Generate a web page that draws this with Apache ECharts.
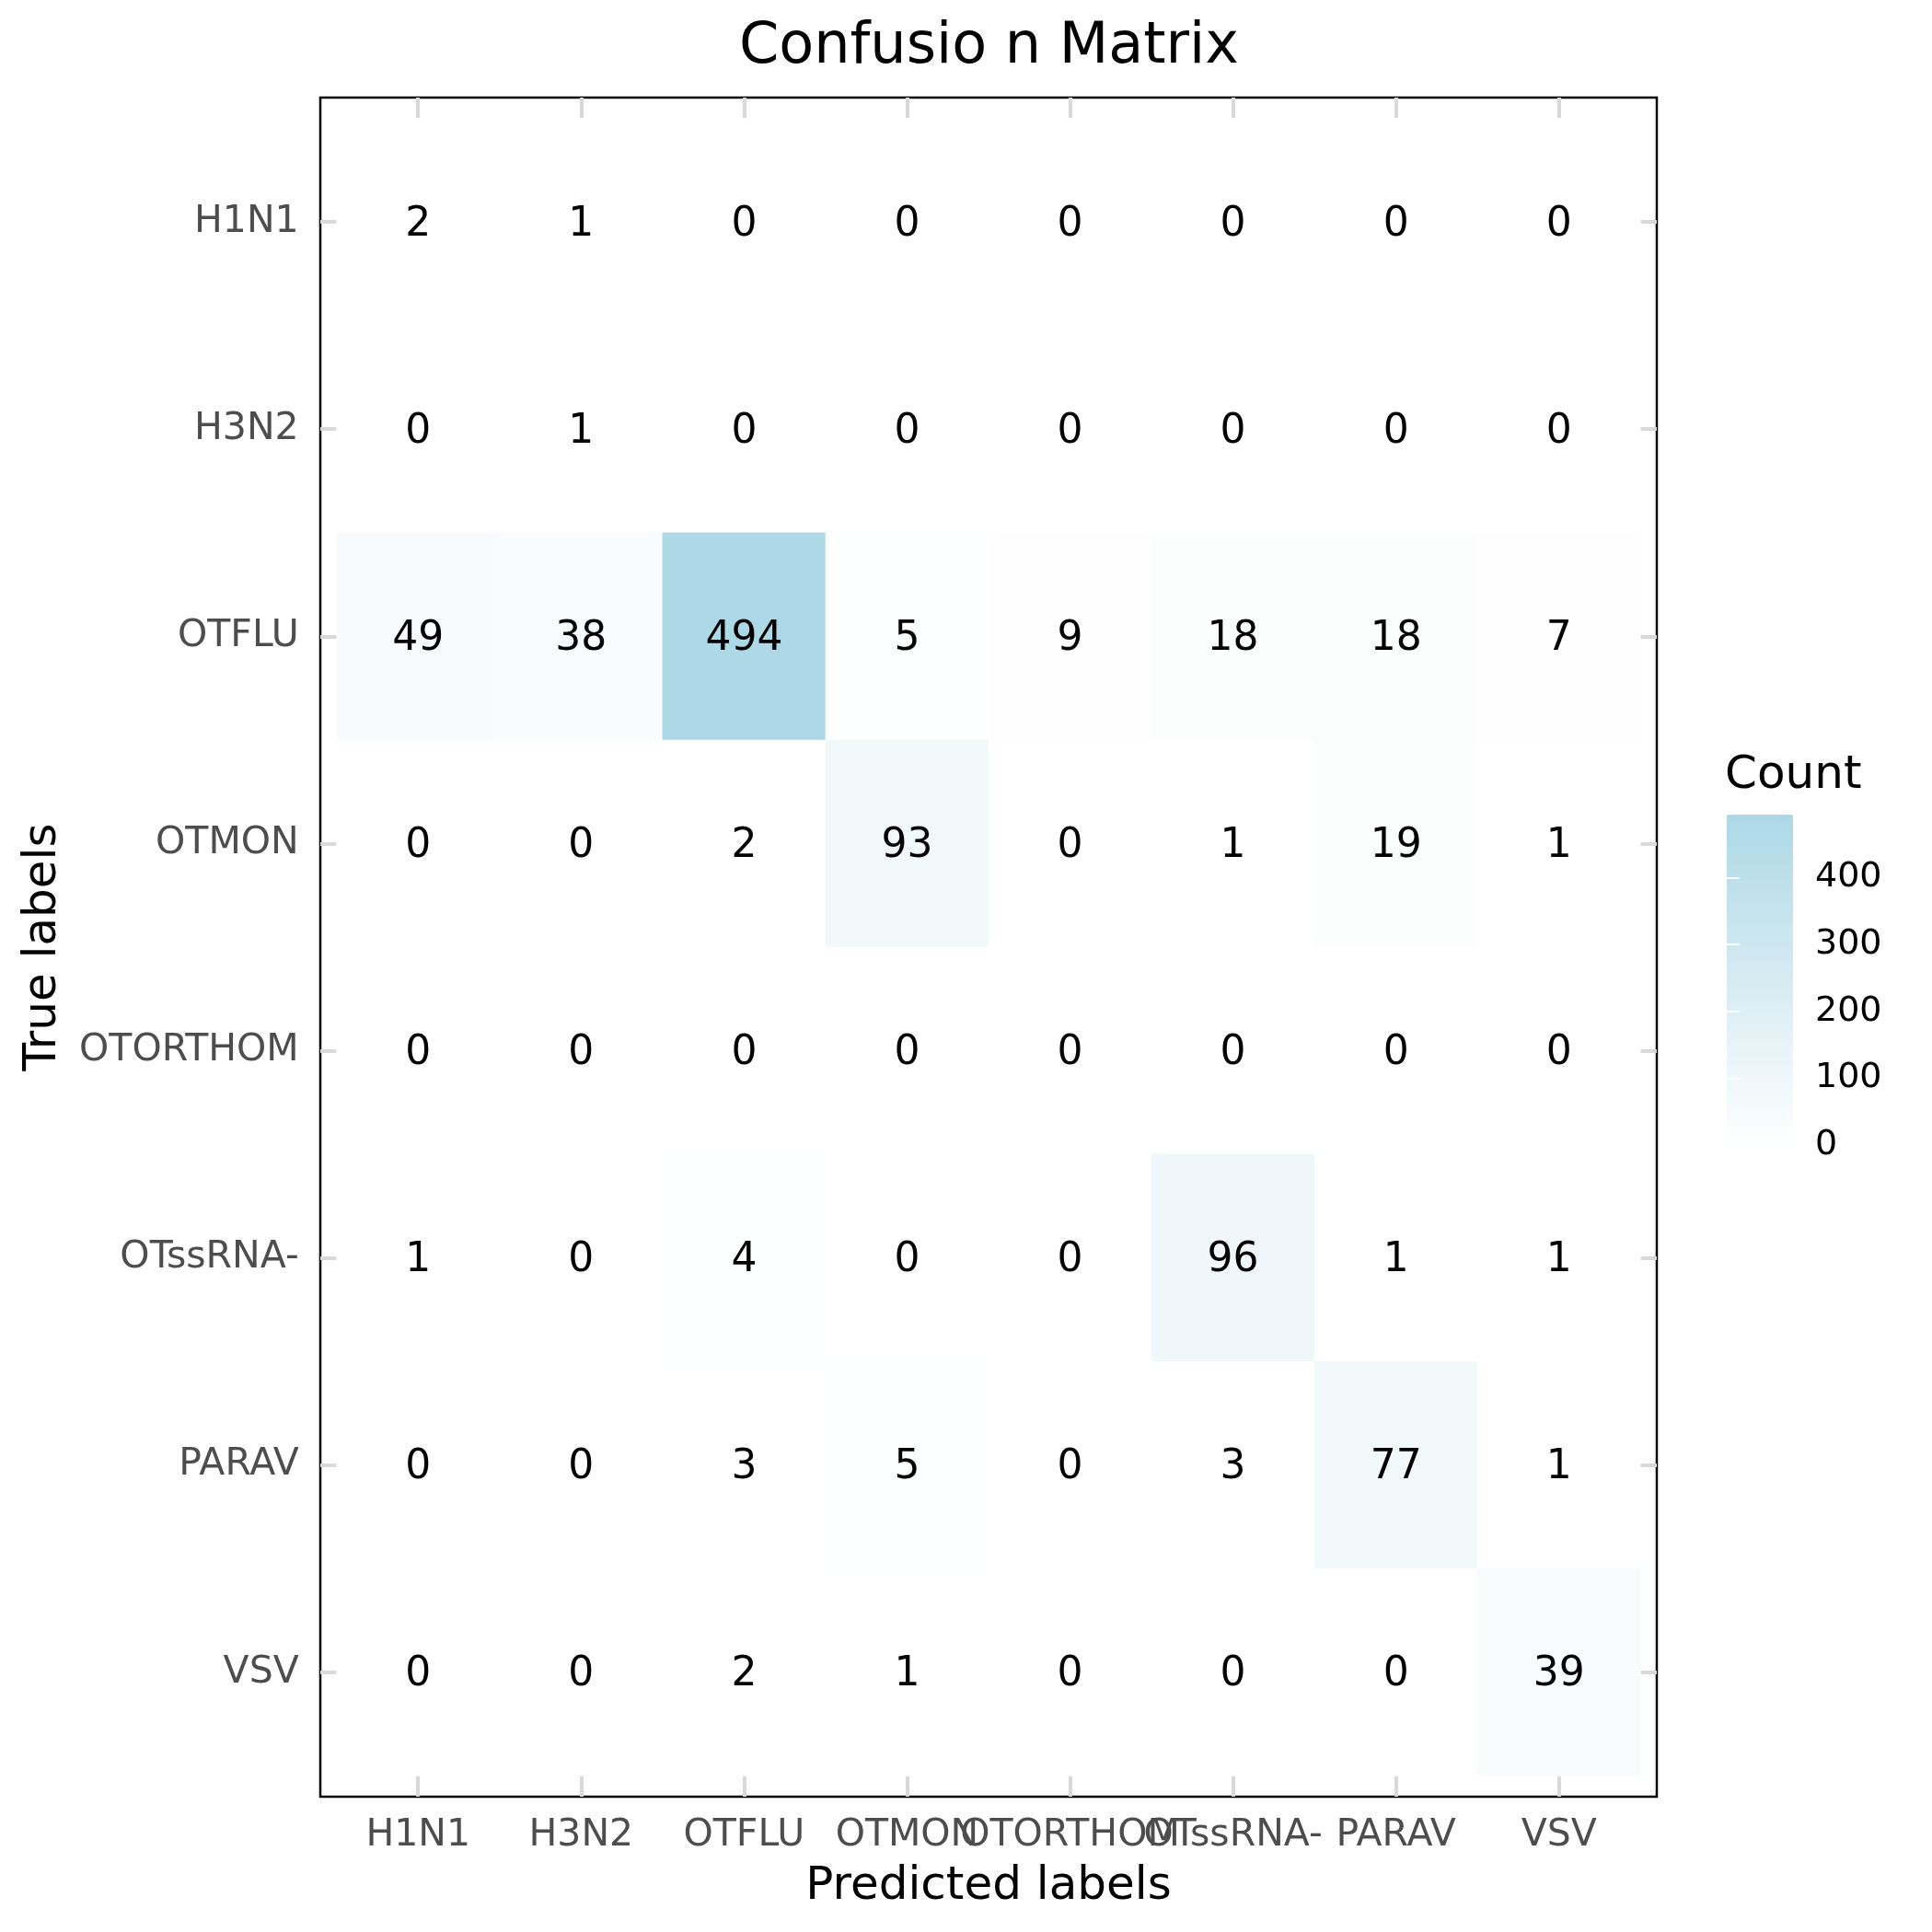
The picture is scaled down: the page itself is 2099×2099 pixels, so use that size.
<!DOCTYPE html>
<html><head><meta charset="utf-8">
<script src="https://cdn.jsdelivr.net/npm/echarts@6/dist/echarts.min.js"></script>
<style>html,body{margin:0;padding:0;background:#fff}#c{width:2099px;height:2099px}</style>
</head><body><div id="c"></div>
<script>
// ---- data ----
const predictedLabels = ['H1N1', 'H3N2', 'OTFLU', 'OTMON', 'OTORTHOM', 'OTssRNA-', 'PARAV', 'VSV'];
const trueLabels = ['H1N1', 'H3N2', 'OTFLU', 'OTMON', 'OTORTHOM', 'OTssRNA-', 'PARAV', 'VSV'];
const rowH1N1     = [2, 1, 0, 0, 0, 0, 0, 0];
const rowH3N2     = [0, 1, 0, 0, 0, 0, 0, 0];
const rowOTFLU    = [49, 38, 494, 5, 9, 18, 18, 7];
const rowOTMON    = [0, 0, 2, 93, 0, 1, 19, 1];
const rowOTORTHOM = [0, 0, 0, 0, 0, 0, 0, 0];
const rowOTssRNA  = [1, 0, 4, 0, 0, 96, 1, 1];
const rowPARAV    = [0, 0, 3, 5, 0, 3, 77, 1];
const rowVSV      = [0, 0, 2, 1, 0, 0, 0, 39];
const legendTicks = [0, 100, 200, 300, 400];
const countMin = 0;
const countMax = 494;

const countMatrix = [rowH1N1, rowH3N2, rowOTFLU, rowOTMON, rowOTORTHOM, rowOTssRNA, rowPARAV, rowVSV];
const heatData = [];
countMatrix.forEach((row, i) => row.forEach((v, j) => heatData.push([j, i, v])));

// ---- layout ----
const FONT = 'DejaVu Sans';
const P = { l: 348, t: 106, w: 1452, h: 1846 };
const ux = P.w / 8.2, uy = P.h / 8.2;
const T = { l: P.l + 0.1 * ux, t: P.t + 0.1 * uy, w: 8 * ux, h: 8 * uy };
const LG = { l: 1876, t: 885, w: 72, h: 359 };
const tickLine = { color: '#D9D9D9', width: 4 };

const chart = echarts.init(document.getElementById('c'), null, { renderer: 'canvas' });
chart.setOption({
  animation: false,
  backgroundColor: '#ffffff',
  title: [
    { text: 'Confusio n Matrix', left: 803, top: 21, padding: 0,
      textStyle: { fontFamily: FONT, fontSize: 62, fontWeight: 'normal', color: '#000' } },
    { text: 'Count', left: 1874, top: 818, padding: 0,
      textStyle: { fontFamily: FONT, fontSize: 50, fontWeight: 'normal', color: '#000' } }
  ],
  grid: [
    { left: T.l, top: T.t, width: T.w, height: T.h },
    { left: P.l, top: P.t, width: P.w, height: P.h, show: true, borderColor: '#000', borderWidth: 2.5, backgroundColor: 'transparent' },
    { left: LG.l, top: LG.t, width: LG.w, height: LG.h }
  ],
  xAxis: [
    { type: 'category', gridIndex: 0, data: predictedLabels, position: 'bottom',
      axisLine: { show: false }, splitLine: { show: false },
      axisTick: { show: true, alignWithLabel: true, inside: false, length: 0.1 * uy, lineStyle: tickLine },
      axisLabel: { interval: 0, margin: 44, fontFamily: FONT, fontSize: 41, color: '#4D4D4D' },
      name: 'Predicted labels', nameLocation: 'middle', nameGap: 96,
      nameTextStyle: { fontFamily: FONT, fontSize: 50, color: '#000' } },
    { type: 'category', gridIndex: 0, data: predictedLabels, position: 'top',
      axisLine: { show: false }, splitLine: { show: false },
      axisTick: { show: true, alignWithLabel: true, inside: false, length: 0.1 * uy, lineStyle: tickLine },
      axisLabel: { show: false } },
    { type: 'value', gridIndex: 1, show: false },
    { type: 'value', gridIndex: 2, show: false }
  ],
  yAxis: [
    { type: 'category', gridIndex: 0, data: trueLabels, inverse: true, position: 'left',
      axisLine: { show: false }, splitLine: { show: false },
      axisTick: { show: true, alignWithLabel: true, inside: false, length: 0.1 * ux, lineStyle: tickLine },
      axisLabel: { interval: 0, margin: 41, fontFamily: FONT, fontSize: 41, color: '#4D4D4D', padding: [5, 0, 0, 0] },
      name: 'True labels', nameLocation: 'middle', nameGap: 294, nameRotate: 90,
      nameTextStyle: { fontFamily: FONT, fontSize: 50, color: '#000' } },
    { type: 'category', gridIndex: 0, data: trueLabels, inverse: true, position: 'right',
      axisLine: { show: false }, splitLine: { show: false },
      axisTick: { show: true, alignWithLabel: true, inside: false, length: 0.1 * ux, lineStyle: tickLine },
      axisLabel: { show: false } },
    { type: 'value', gridIndex: 1, show: false },
    { type: 'value', gridIndex: 2, min: countMin, max: countMax, position: 'right', z: 10,
      axisLine: { show: false }, splitLine: { show: false },
      axisTick: { show: true, inside: true, length: 14, customValues: legendTicks, lineStyle: { color: '#fff', width: 2 } },
      axisLabel: { customValues: legendTicks, margin: 24, fontFamily: FONT, fontSize: 38, color: '#000', padding: [4, 0, 0, 0] } },
    { type: 'value', gridIndex: 2, min: countMin, max: countMax, position: 'left', z: 10,
      axisLine: { show: false }, splitLine: { show: false },
      axisTick: { show: true, inside: true, length: 14, customValues: legendTicks, lineStyle: { color: '#fff', width: 2 } },
      axisLabel: { show: false } }
  ],
  visualMap: {
    type: 'continuous', min: countMin, max: countMax, calculable: false, orient: 'vertical',
    left: LG.l, top: LG.t, itemWidth: LG.w, itemHeight: LG.h, padding: 0,
    seriesIndex: 0, inRange: { color: ['#FFFFFF', '#ADD8E6'] }
  },
  series: [{
    type: 'heatmap', xAxisIndex: 0, yAxisIndex: 0, data: heatData,
    label: { show: true, formatter: p => String(p.value[2]), fontFamily: FONT, fontSize: 44, color: '#000', offset: [0, 3] },
    itemStyle: { borderWidth: 0 },
    emphasis: { disabled: true }
  }]
});
</script>
</body></html>
